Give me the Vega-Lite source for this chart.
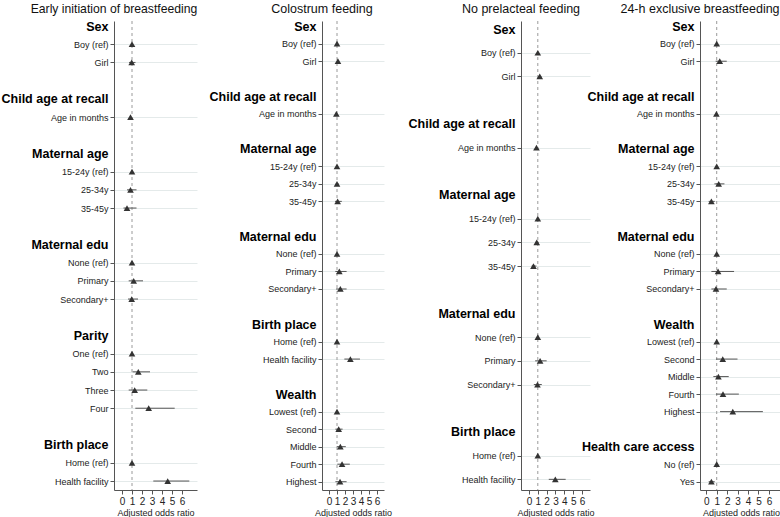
{
  "$schema": "https://vega.github.io/schema/vega-lite/v6.json",
  "padding": {"left": 0, "top": 2, "right": 0, "bottom": 0},
  "autosize": {"type": "pad"},
  "spacing": -15,
  "config": {
    "view": {"stroke": null},
    "font": "Liberation Sans",
    "axis": {"labelFont": "Liberation Sans", "titleFont": "Liberation Sans"},
    "axisX": {"values": [0,1,2,3,4,5,6], "grid": false, "tickSize": 4, "tickColor": "#555", "domain": true, "domainColor": "#555", "domainWidth": 1, "labelFontSize": 10, "titleFontSize": 9, "titleFontWeight": "normal", "labelPadding": 2, "titlePadding": 2, "labelOverlap": false, "labelFlush": false, "labelColor": "#222", "titleColor": "#222", "title": "Adjusted odds ratio"},
    "axisY": {"title": null, "tickSize": 4, "tickColor": "#555", "labelPadding": 2, "grid": true, "gridColor": "#e4eaea", "domain": true, "domainColor": "#555", "domainWidth": 1, "labelOverlap": false, "labelLimit": 300},
    "title": {"font": "Liberation Sans", "fontSize": 12.5, "fontWeight": "normal", "anchor": "start", "frame": "group", "offset": 5, "color": "#111"}
  },
  "data": {"values": [
    {"panel": "P1", "label": "Boy (ref)", "or": 1, "lo": 1, "hi": 1},
    {"panel": "P1", "label": "Girl", "or": 0.97, "lo": 0.7, "hi": 1.35},
    {"panel": "P1", "label": "Age in months", "or": 0.85, "lo": 0.8, "hi": 0.9},
    {"panel": "P1", "label": "15-24y (ref)", "or": 1, "lo": 1, "hi": 1},
    {"panel": "P1", "label": "25-34y", "or": 0.85, "lo": 0.5, "hi": 1.45},
    {"panel": "P1", "label": "35-45y", "or": 0.5, "lo": 0.15, "hi": 1.45},
    {"panel": "P1", "label": "None (ref)", "or": 1, "lo": 1, "hi": 1},
    {"panel": "P1", "label": "Primary", "or": 1.17, "lo": 0.67, "hi": 2.1},
    {"panel": "P1", "label": "Secondary+", "or": 0.97, "lo": 0.6, "hi": 1.6},
    {"panel": "P1", "label": "One (ref)", "or": 1, "lo": 1, "hi": 1},
    {"panel": "P1", "label": "Two", "or": 1.63, "lo": 1.07, "hi": 2.8},
    {"panel": "P1", "label": "Three", "or": 1.27, "lo": 0.67, "hi": 2.53},
    {"panel": "P1", "label": "Four", "or": 2.67, "lo": 1.33, "hi": 5.27},
    {"panel": "P1", "label": "Home (ref)", "or": 1, "lo": 1, "hi": 1},
    {"panel": "P1", "label": "Health facility", "or": 4.57, "lo": 3.13, "hi": 6.73},

    {"panel": "P2", "label": "Boy (ref)", "or": 1, "lo": 1, "hi": 1},
    {"panel": "P2", "label": "Girl", "or": 1.12, "lo": 1.0, "hi": 1.25},
    {"panel": "P2", "label": "Age in months", "or": 0.92, "lo": 0.88, "hi": 0.96},
    {"panel": "P2", "label": "15-24y (ref)", "or": 1, "lo": 1, "hi": 1},
    {"panel": "P2", "label": "25-34y", "or": 1.0, "lo": 0.85, "hi": 1.2},
    {"panel": "P2", "label": "35-45y", "or": 1.08, "lo": 0.75, "hi": 1.6},
    {"panel": "P2", "label": "None (ref)", "or": 1, "lo": 1, "hi": 1},
    {"panel": "P2", "label": "Primary", "or": 1.29, "lo": 0.79, "hi": 2.2},
    {"panel": "P2", "label": "Secondary+", "or": 1.42, "lo": 0.88, "hi": 2.2},
    {"panel": "P2", "label": "Home (ref)", "or": 1, "lo": 1, "hi": 1},
    {"panel": "P2", "label": "Health facility", "or": 2.67, "lo": 1.92, "hi": 3.87},
    {"panel": "P2", "label": "Lowest (ref)", "or": 1, "lo": 1, "hi": 1},
    {"panel": "P2", "label": "Second", "or": 1.21, "lo": 0.8, "hi": 1.7},
    {"panel": "P2", "label": "Middle", "or": 1.42, "lo": 0.96, "hi": 2.1},
    {"panel": "P2", "label": "Fourth", "or": 1.63, "lo": 1.04, "hi": 2.6},
    {"panel": "P2", "label": "Highest", "or": 1.38, "lo": 0.8, "hi": 2.2},

    {"panel": "P3", "label": "Boy (ref)", "or": 1, "lo": 1, "hi": 1},
    {"panel": "P3", "label": "Girl", "or": 1.22, "lo": 1.05, "hi": 1.4},
    {"panel": "P3", "label": "Age in months", "or": 0.85, "lo": 0.8, "hi": 0.9},
    {"panel": "P3", "label": "15-24y (ref)", "or": 1, "lo": 1, "hi": 1},
    {"panel": "P3", "label": "25-34y", "or": 0.88, "lo": 0.7, "hi": 1.1},
    {"panel": "P3", "label": "35-45y", "or": 0.51, "lo": 0.3, "hi": 0.85},
    {"panel": "P3", "label": "None (ref)", "or": 1, "lo": 1, "hi": 1},
    {"panel": "P3", "label": "Primary", "or": 1.26, "lo": 0.7, "hi": 2.0},
    {"panel": "P3", "label": "Secondary+", "or": 0.96, "lo": 0.55, "hi": 1.45},
    {"panel": "P3", "label": "Home (ref)", "or": 1, "lo": 1, "hi": 1},
    {"panel": "P3", "label": "Health facility", "or": 2.98, "lo": 2.24, "hi": 4.15},

    {"panel": "P4", "label": "Boy (ref)", "or": 1, "lo": 1, "hi": 1},
    {"panel": "P4", "label": "Girl", "or": 1.29, "lo": 0.9, "hi": 1.96},
    {"panel": "P4", "label": "Age in months", "or": 0.97, "lo": 0.93, "hi": 1.01},
    {"panel": "P4", "label": "15-24y (ref)", "or": 1, "lo": 1, "hi": 1},
    {"panel": "P4", "label": "25-34y", "or": 1.19, "lo": 0.78, "hi": 1.74},
    {"panel": "P4", "label": "35-45y", "or": 0.49, "lo": 0.23, "hi": 0.81},
    {"panel": "P4", "label": "None (ref)", "or": 1, "lo": 1, "hi": 1},
    {"panel": "P4", "label": "Primary", "or": 1.13, "lo": 0.49, "hi": 2.66},
    {"panel": "P4", "label": "Secondary+", "or": 0.93, "lo": 0.49, "hi": 1.96},
    {"panel": "P4", "label": "Lowest (ref)", "or": 1, "lo": 1, "hi": 1},
    {"panel": "P4", "label": "Second", "or": 1.58, "lo": 0.93, "hi": 2.99},
    {"panel": "P4", "label": "Middle", "or": 1.16, "lo": 0.68, "hi": 2.15},
    {"panel": "P4", "label": "Fourth", "or": 1.6, "lo": 0.93, "hi": 3.12},
    {"panel": "P4", "label": "Highest", "or": 2.54, "lo": 1.32, "hi": 5.42},
    {"panel": "P4", "label": "No (ref)", "or": 1, "lo": 1, "hi": 1},
    {"panel": "P4", "label": "Yes", "or": 0.49, "lo": 0.23, "hi": 0.81}
  ]},
  "hconcat": [
    {
      "width": 83, "height": 469,
      "title": {"text": "Early initiation of breastfeeding", "align": "center", "fontSize": 12.2},
      "layer": [
        {"data": {"values": [{"ref": 1}]}, "mark": {"type": "rule", "color": "#9a9a9a", "strokeDash": [3, 3], "strokeWidth": 1},
         "encoding": {"x": {"field": "ref", "type": "quantitative", "scale": {"domain": [-0.8, 7.5], "nice": false, "zero": false}, "title": "Adjusted odds ratio", "axis": {"values": [0,1,2,3,4,5,6], "labelOverlap": false, "labelFlush": false}}}},
        {"transform": [{"filter": "datum.panel == 'P1'"}],
         "mark": {"type": "rule", "color": "#555", "strokeWidth": 1},
         "encoding": {
           "x": {"field": "lo", "type": "quantitative", "scale": {"domain": [-0.8, 7.5], "nice": false, "zero": false}, "title": "Adjusted odds ratio", "axis": {"values": [0,1,2,3,4,5,6], "labelOverlap": false, "labelFlush": false}},
           "x2": {"field": "hi"},
           "y": {"field": "label", "type": "nominal", "title": null,
             "scale": {"type": "point", "domain": ["#Sex","Boy (ref)","Girl","~1","#Child age at recall","Age in months","~2","#Maternal age","15-24y (ref)","25-34y","35-45y","~3","#Maternal edu","None (ref)","Primary","Secondary+","~4","#Parity","One (ref)","Two","Three","Four","~5","#Birth place","Home (ref)","Health facility"], "padding": 0.385, "align": 0.36, "round": false},
             "axis": {"labelExpr": "substring(datum.value,0,1)=='#' ? substring(datum.value,1) : (substring(datum.value,0,1)=='~' ? '' : datum.value)",
               "labelFontSize": {"condition": {"test": "substring(datum.value,0,1)=='#'", "value": 12.5}, "value": 9},
               "labelFontWeight": {"condition": {"test": "substring(datum.value,0,1)=='#'", "value": "bold"}, "value": "normal"},
               "labelColor": {"condition": {"test": "substring(datum.value,0,1)=='#'", "value": "#000"}, "value": "#222"},
               "tickOpacity": {"condition": {"test": "substring(datum.value,0,1)!='#' && substring(datum.value,0,1)!='~'", "value": 1}, "value": 0},
               "gridOpacity": {"condition": {"test": "substring(datum.value,0,1)!='#' && substring(datum.value,0,1)!='~'", "value": 1}, "value": 0},
               "minExtent": 114}}
         }},
        {"transform": [{"filter": "datum.panel == 'P1'"}],
         "mark": {"type": "point", "shape": "triangle-up", "filled": true, "size": 44, "color": "#333", "opacity": 1},
         "encoding": {
           "x": {"field": "or", "type": "quantitative", "scale": {"domain": [-0.8, 7.5], "nice": false, "zero": false}, "title": "Adjusted odds ratio", "axis": {"values": [0,1,2,3,4,5,6], "labelOverlap": false, "labelFlush": false}},
           "y": {"field": "label", "type": "nominal", "title": null,
             "scale": {"type": "point", "domain": ["#Sex","Boy (ref)","Girl","~1","#Child age at recall","Age in months","~2","#Maternal age","15-24y (ref)","25-34y","35-45y","~3","#Maternal edu","None (ref)","Primary","Secondary+","~4","#Parity","One (ref)","Two","Three","Four","~5","#Birth place","Home (ref)","Health facility"], "padding": 0.385, "align": 0.36, "round": false},
             "axis": {"labelExpr": "substring(datum.value,0,1)=='#' ? substring(datum.value,1) : (substring(datum.value,0,1)=='~' ? '' : datum.value)",
               "labelFontSize": {"condition": {"test": "substring(datum.value,0,1)=='#'", "value": 12.5}, "value": 9},
               "labelFontWeight": {"condition": {"test": "substring(datum.value,0,1)=='#'", "value": "bold"}, "value": "normal"},
               "labelColor": {"condition": {"test": "substring(datum.value,0,1)=='#'", "value": "#000"}, "value": "#222"},
               "tickOpacity": {"condition": {"test": "substring(datum.value,0,1)!='#' && substring(datum.value,0,1)!='~'", "value": 1}, "value": 0},
               "gridOpacity": {"condition": {"test": "substring(datum.value,0,1)!='#' && substring(datum.value,0,1)!='~'", "value": 1}, "value": 0},
               "minExtent": 114}}
         }}
      ]
    },
    {
      "width": 62, "height": 469,
      "title": {"text": "Colostrum feeding", "align": "center"},
      "layer": [
        {"data": {"values": [{"ref": 1}]}, "mark": {"type": "rule", "color": "#9a9a9a", "strokeDash": [3, 3], "strokeWidth": 1},
         "encoding": {"x": {"field": "ref", "type": "quantitative", "scale": {"domain": [-0.875, 6.875], "nice": false, "zero": false}, "title": "Adjusted odds ratio", "axis": {"values": [0,1,2,3,4,5,6], "labelOverlap": false, "labelFlush": false}}}},
        {"transform": [{"filter": "datum.panel == 'P2'"}],
         "mark": {"type": "rule", "color": "#555", "strokeWidth": 1},
         "encoding": {
           "x": {"field": "lo", "type": "quantitative", "scale": {"domain": [-0.875, 6.875], "nice": false, "zero": false}, "title": "Adjusted odds ratio", "axis": {"values": [0,1,2,3,4,5,6], "labelOverlap": false, "labelFlush": false}},
           "x2": {"field": "hi"},
           "y": {"field": "label", "type": "nominal", "title": null,
             "scale": {"type": "point", "domain": ["#Sex","Boy (ref)","Girl","~1","#Child age at recall","Age in months","~2","#Maternal age","15-24y (ref)","25-34y","35-45y","~3","#Maternal edu","None (ref)","Primary","Secondary+","~4","#Birth place","Home (ref)","Health facility","~5","#Wealth","Lowest (ref)","Second","Middle","Fourth","Highest"], "padding": 0.385, "align": 0.385, "round": false},
             "axis": {"labelExpr": "substring(datum.value,0,1)=='#' ? substring(datum.value,1) : (substring(datum.value,0,1)=='~' ? '' : datum.value)",
               "labelFontSize": {"condition": {"test": "substring(datum.value,0,1)=='#'", "value": 12.5}, "value": 9},
               "labelFontWeight": {"condition": {"test": "substring(datum.value,0,1)=='#'", "value": "bold"}, "value": "normal"},
               "labelColor": {"condition": {"test": "substring(datum.value,0,1)=='#'", "value": "#000"}, "value": "#222"},
               "tickOpacity": {"condition": {"test": "substring(datum.value,0,1)!='#' && substring(datum.value,0,1)!='~'", "value": 1}, "value": 0},
               "gridOpacity": {"condition": {"test": "substring(datum.value,0,1)!='#' && substring(datum.value,0,1)!='~'", "value": 1}, "value": 0},
               "minExtent": 139}}
         }},
        {"transform": [{"filter": "datum.panel == 'P2'"}],
         "mark": {"type": "point", "shape": "triangle-up", "filled": true, "size": 44, "color": "#333", "opacity": 1},
         "encoding": {
           "x": {"field": "or", "type": "quantitative", "scale": {"domain": [-0.875, 6.875], "nice": false, "zero": false}, "title": "Adjusted odds ratio", "axis": {"values": [0,1,2,3,4,5,6], "labelOverlap": false, "labelFlush": false}},
           "y": {"field": "label", "type": "nominal", "title": null,
             "scale": {"type": "point", "domain": ["#Sex","Boy (ref)","Girl","~1","#Child age at recall","Age in months","~2","#Maternal age","15-24y (ref)","25-34y","35-45y","~3","#Maternal edu","None (ref)","Primary","Secondary+","~4","#Birth place","Home (ref)","Health facility","~5","#Wealth","Lowest (ref)","Second","Middle","Fourth","Highest"], "padding": 0.385, "align": 0.385, "round": false},
             "axis": {"labelExpr": "substring(datum.value,0,1)=='#' ? substring(datum.value,1) : (substring(datum.value,0,1)=='~' ? '' : datum.value)",
               "labelFontSize": {"condition": {"test": "substring(datum.value,0,1)=='#'", "value": 12.5}, "value": 9},
               "labelFontWeight": {"condition": {"test": "substring(datum.value,0,1)=='#'", "value": "bold"}, "value": "normal"},
               "labelColor": {"condition": {"test": "substring(datum.value,0,1)=='#'", "value": "#000"}, "value": "#222"},
               "tickOpacity": {"condition": {"test": "substring(datum.value,0,1)!='#' && substring(datum.value,0,1)!='~'", "value": 1}, "value": 0},
               "gridOpacity": {"condition": {"test": "substring(datum.value,0,1)!='#' && substring(datum.value,0,1)!='~'", "value": 1}, "value": 0},
               "minExtent": 139}}
         }}
      ]
    },
    {
      "width": 69, "height": 469,
      "title": {"text": "No prelacteal feeding", "align": "center"},
      "layer": [
        {"data": {"values": [{"ref": 1}]}, "mark": {"type": "rule", "color": "#9a9a9a", "strokeDash": [3, 3], "strokeWidth": 1},
         "encoding": {"x": {"field": "ref", "type": "quantitative", "scale": {"domain": [-0.9, 6.9], "nice": false, "zero": false}, "title": "Adjusted odds ratio", "axis": {"values": [0,1,2,3,4,5,6], "labelOverlap": false, "labelFlush": false}}}},
        {"transform": [{"filter": "datum.panel == 'P3'"}],
         "mark": {"type": "rule", "color": "#555", "strokeWidth": 1},
         "encoding": {
           "x": {"field": "lo", "type": "quantitative", "scale": {"domain": [-0.9, 6.9], "nice": false, "zero": false}, "title": "Adjusted odds ratio", "axis": {"values": [0,1,2,3,4,5,6], "labelOverlap": false, "labelFlush": false}},
           "x2": {"field": "hi"},
           "y": {"field": "label", "type": "nominal", "title": null,
             "scale": {"type": "point", "domain": ["#Sex","Boy (ref)","Girl","~1","#Child age at recall","Age in months","~2","#Maternal age","15-24y (ref)","25-34y","35-45y","~3","#Maternal edu","None (ref)","Primary","Secondary+","~4","#Birth place","Home (ref)","Health facility"], "padding": 0.395, "align": 0.43, "round": false},
             "axis": {"labelExpr": "substring(datum.value,0,1)=='#' ? substring(datum.value,1) : (substring(datum.value,0,1)=='~' ? '' : datum.value)",
               "labelFontSize": {"condition": {"test": "substring(datum.value,0,1)=='#'", "value": 12.5}, "value": 9},
               "labelFontWeight": {"condition": {"test": "substring(datum.value,0,1)=='#'", "value": "bold"}, "value": "normal"},
               "labelColor": {"condition": {"test": "substring(datum.value,0,1)=='#'", "value": "#000"}, "value": "#222"},
               "tickOpacity": {"condition": {"test": "substring(datum.value,0,1)!='#' && substring(datum.value,0,1)!='~'", "value": 1}, "value": 0},
               "gridOpacity": {"condition": {"test": "substring(datum.value,0,1)!='#' && substring(datum.value,0,1)!='~'", "value": 1}, "value": 0},
               "minExtent": 144}}
         }},
        {"transform": [{"filter": "datum.panel == 'P3'"}],
         "mark": {"type": "point", "shape": "triangle-up", "filled": true, "size": 44, "color": "#333", "opacity": 1},
         "encoding": {
           "x": {"field": "or", "type": "quantitative", "scale": {"domain": [-0.9, 6.9], "nice": false, "zero": false}, "title": "Adjusted odds ratio", "axis": {"values": [0,1,2,3,4,5,6], "labelOverlap": false, "labelFlush": false}},
           "y": {"field": "label", "type": "nominal", "title": null,
             "scale": {"type": "point", "domain": ["#Sex","Boy (ref)","Girl","~1","#Child age at recall","Age in months","~2","#Maternal age","15-24y (ref)","25-34y","35-45y","~3","#Maternal edu","None (ref)","Primary","Secondary+","~4","#Birth place","Home (ref)","Health facility"], "padding": 0.395, "align": 0.43, "round": false},
             "axis": {"labelExpr": "substring(datum.value,0,1)=='#' ? substring(datum.value,1) : (substring(datum.value,0,1)=='~' ? '' : datum.value)",
               "labelFontSize": {"condition": {"test": "substring(datum.value,0,1)=='#'", "value": 12.5}, "value": 9},
               "labelFontWeight": {"condition": {"test": "substring(datum.value,0,1)=='#'", "value": "bold"}, "value": "normal"},
               "labelColor": {"condition": {"test": "substring(datum.value,0,1)=='#'", "value": "#000"}, "value": "#222"},
               "tickOpacity": {"condition": {"test": "substring(datum.value,0,1)!='#' && substring(datum.value,0,1)!='~'", "value": 1}, "value": 0},
               "gridOpacity": {"condition": {"test": "substring(datum.value,0,1)!='#' && substring(datum.value,0,1)!='~'", "value": 1}, "value": 0},
               "minExtent": 144}}
         }}
      ]
    },
    {
      "width": 82, "height": 469,
      "title": {"text": "24-h exclusive breastfeeding", "align": "center"},
      "layer": [
        {"data": {"values": [{"ref": 1}]}, "mark": {"type": "rule", "color": "#9a9a9a", "strokeDash": [3, 3], "strokeWidth": 1},
         "encoding": {"x": {"field": "ref", "type": "quantitative", "scale": {"domain": [-0.6, 7.25], "nice": false, "zero": false}, "title": "Adjusted odds ratio", "axis": {"values": [0,1,2,3,4,5,6], "labelOverlap": false, "labelFlush": false}}}},
        {"transform": [{"filter": "datum.panel == 'P4'"}],
         "mark": {"type": "rule", "color": "#555", "strokeWidth": 1},
         "encoding": {
           "x": {"field": "lo", "type": "quantitative", "scale": {"domain": [-0.6, 7.25], "nice": false, "zero": false}, "title": "Adjusted odds ratio", "axis": {"values": [0,1,2,3,4,5,6], "labelOverlap": false, "labelFlush": false}},
           "x2": {"field": "hi"},
           "y": {"field": "label", "type": "nominal", "title": null,
             "scale": {"type": "point", "domain": ["#Sex","Boy (ref)","Girl","~1","#Child age at recall","Age in months","~2","#Maternal age","15-24y (ref)","25-34y","35-45y","~3","#Maternal edu","None (ref)","Primary","Secondary+","~4","#Wealth","Lowest (ref)","Second","Middle","Fourth","Highest","~5","#Health care access","No (ref)","Yes"], "padding": 0.385, "align": 0.385, "round": false},
             "axis": {"labelExpr": "substring(datum.value,0,1)=='#' ? substring(datum.value,1) : (substring(datum.value,0,1)=='~' ? '' : datum.value)",
               "labelFontSize": {"condition": {"test": "substring(datum.value,0,1)=='#'", "value": 12.5}, "value": 9},
               "labelFontWeight": {"condition": {"test": "substring(datum.value,0,1)=='#'", "value": "bold"}, "value": "normal"},
               "labelColor": {"condition": {"test": "substring(datum.value,0,1)=='#'", "value": "#000"}, "value": "#222"},
               "tickOpacity": {"condition": {"test": "substring(datum.value,0,1)!='#' && substring(datum.value,0,1)!='~'", "value": 1}, "value": 0},
               "gridOpacity": {"condition": {"test": "substring(datum.value,0,1)!='#' && substring(datum.value,0,1)!='~'", "value": 1}, "value": 0},
               "minExtent": 119.5}}
         }},
        {"transform": [{"filter": "datum.panel == 'P4'"}],
         "mark": {"type": "point", "shape": "triangle-up", "filled": true, "size": 44, "color": "#333", "opacity": 1},
         "encoding": {
           "x": {"field": "or", "type": "quantitative", "scale": {"domain": [-0.6, 7.25], "nice": false, "zero": false}, "title": "Adjusted odds ratio", "axis": {"values": [0,1,2,3,4,5,6], "labelOverlap": false, "labelFlush": false}},
           "y": {"field": "label", "type": "nominal", "title": null,
             "scale": {"type": "point", "domain": ["#Sex","Boy (ref)","Girl","~1","#Child age at recall","Age in months","~2","#Maternal age","15-24y (ref)","25-34y","35-45y","~3","#Maternal edu","None (ref)","Primary","Secondary+","~4","#Wealth","Lowest (ref)","Second","Middle","Fourth","Highest","~5","#Health care access","No (ref)","Yes"], "padding": 0.385, "align": 0.385, "round": false},
             "axis": {"labelExpr": "substring(datum.value,0,1)=='#' ? substring(datum.value,1) : (substring(datum.value,0,1)=='~' ? '' : datum.value)",
               "labelFontSize": {"condition": {"test": "substring(datum.value,0,1)=='#'", "value": 12.5}, "value": 9},
               "labelFontWeight": {"condition": {"test": "substring(datum.value,0,1)=='#'", "value": "bold"}, "value": "normal"},
               "labelColor": {"condition": {"test": "substring(datum.value,0,1)=='#'", "value": "#000"}, "value": "#222"},
               "tickOpacity": {"condition": {"test": "substring(datum.value,0,1)!='#' && substring(datum.value,0,1)!='~'", "value": 1}, "value": 0},
               "gridOpacity": {"condition": {"test": "substring(datum.value,0,1)!='#' && substring(datum.value,0,1)!='~'", "value": 1}, "value": 0},
               "minExtent": 119.5}}
         }}
      ]
    }
  ]
}
